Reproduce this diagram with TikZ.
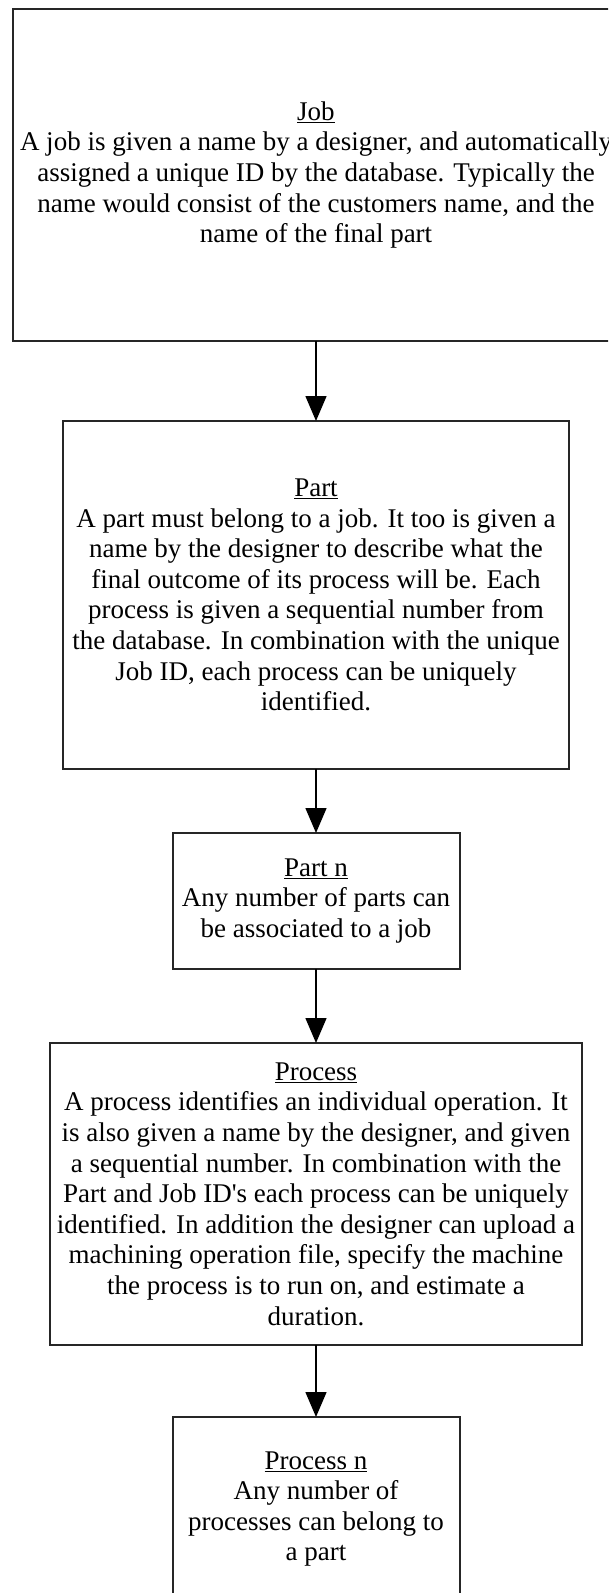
\documentclass[tikz,border=0pt]{standalone}
\usepackage{fontspec}
\setmainfont{Liberation Serif}
\usetikzlibrary{positioning,arrows.meta}
\tikzset{
	entity/.style = {draw=black!85, line width=2pt, align=center, inner sep=0pt, outer sep=0pt, font=\fontsize{27pt}{30.6pt}\selectfont},
	bigbox/.style = {entity, minimum width=607pt, minimum height=332pt},
	partbox/.style = {entity, minimum width=506pt, minimum height=348pt},
	procbox/.style = {entity, minimum width=532pt, minimum height=302pt},
	smallbox/.style = {entity, minimum width=287pt},
	link/.style = {line width=1.5pt, -{Triangle[width=21pt,length=25pt]}}
}

\begin{document}
\begin{tikzpicture}[x=1pt, y=1pt]
	\clip (0,0) rectangle (608,-1593);
	\node [bigbox] (job) at (316,-175) {\underline{Job}\\
		A job is given a name by a designer, and automatically\\
		assigned a unique ID by the database. Typically the\\
		name would consist of the customers name, and the\\
		name of the final part};
	\node [partbox, below=80pt of job] (part) {\underline{Part}\\
		A part must belong to a job. It too is given a\\
		name by the designer to describe what the\\
		final outcome of its process will be. Each\\
		process is given a sequential number from\\
		the database. In combination with the unique\\
		Job ID, each process can be uniquely\\
		identified.};
	\node [smallbox, minimum height=136pt, below=64pt of part] (partn) {\underline{Part n}\\
		Any number of parts can\\
		be associated to a job};
	\node [procbox, below=74pt of partn] (process) {\underline{Process}\\
		A process identifies an individual operation. It\\
		is also given a name by the designer, and given\\
		a sequential number. In combination with the\\
		Part and Job ID\textquotesingle s each process can be uniquely\\
		identified. In addition the designer can upload a\\
		machining operation file, specify the machine\\
		the process is to run on, and estimate a\\
		duration.};
	\node [smallbox, minimum height=184pt, below=72pt of process] (processn) {\underline{Process n}\\
		Any number of\\
		processes can belong to\\
		a part};
	% connectors
	\draw [link] (job) -- (part);
	\draw [link] (part) -- (partn);
	\draw [link] (partn) -- (process);
	\draw [link] (process) -- (processn);
\end{tikzpicture}
\end{document}
